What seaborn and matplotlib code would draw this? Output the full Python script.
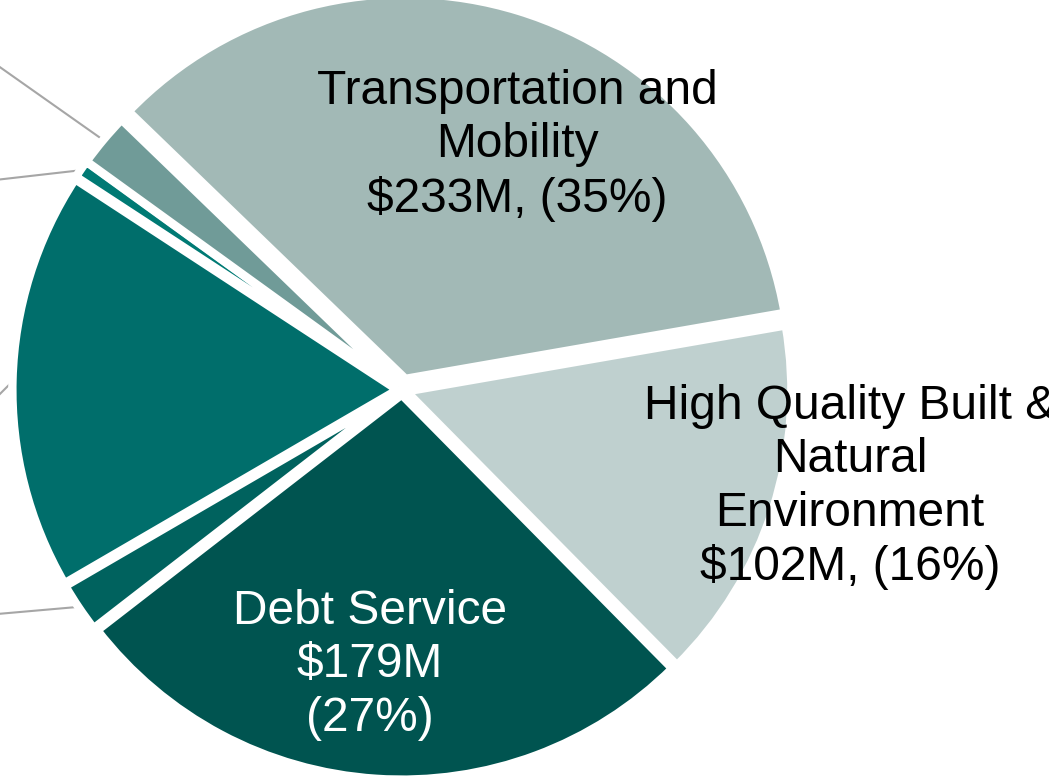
import matplotlib
matplotlib.use("Agg")
import matplotlib.pyplot as plt
import seaborn as sns
import numpy as np

sns.set_theme(style="white")
plt.rcParams['font.family'] = ['Liberation Sans', 'DejaVu Sans']

# ---- data ($M) ----
categories = ["Transportation and Mobility",
              "High Quality Built & Natural Environment",
              "Debt Service",
              "Other A", "Other B", "Other C", "Other D"]
values = [233, 102, 179, 14, 117, 5, 15]
labels_txt = ["Transportation and\nMobility\n$233M, (35%)",
              "High Quality Built &\nNatural\nEnvironment\n$102M, (16%)",
              "Debt Service\n$179M\n(27%)",
              None, None, None, None]
colors = ["#A2B9B6", "#BFD0CF", "#005450", "#00625E", "#006E6B", "#007A74", "#709B98"]
text_colors = ["black", "black", "white"]
label_pos = [(0.295, 0.628), (1.149, -0.249), (-0.082, -0.705)]
explode = [0.03, 0.012, 0.012, 0.012, 0.012, 0.012, 0.012]
leader_dirs = {3: 185, 4: 225, 5: 186.5, 6: 144.8}  # degrees, direction of leader line
leader_len = 1.2

fig = plt.figure(figsize=(10.49, 7.79), dpi=100)
ax = fig.add_axes([0, 0, 1, 1])
wedges, _ = ax.pie(values, colors=colors, startangle=136, counterclock=False,
                   radius=0.987, explode=explode,
                   wedgeprops=dict(edgecolor="white", linewidth=6))

for i, (txt, pos) in enumerate(zip(labels_txt[:3], label_pos)):
    ax.text(pos[0], pos[1], txt, ha="center", va="center", fontsize=34.5,
            color=text_colors[i], linespacing=1.24)

for i, d in leader_dirs.items():
    w = wedges[i]
    th = np.deg2rad((w.theta1 + w.theta2) / 2)
    r = 0.995
    x0, y0 = r * np.cos(th), r * np.sin(th)
    x1 = x0 + leader_len * np.cos(np.deg2rad(d))
    y1 = y0 + leader_len * np.sin(np.deg2rad(d))
    ax.plot([x0, x1], [y0, y1], color="#A6A6A6", lw=1.5, zorder=0)

s = 390.0
ax.set_xlim(-402 / s, (1049 - 402) / s)
ax.set_ylim(-(779 - 390) / s, 390 / s)
ax.set_aspect("equal")
ax.axis("off")
fig.savefig("out.png", dpi=100)
